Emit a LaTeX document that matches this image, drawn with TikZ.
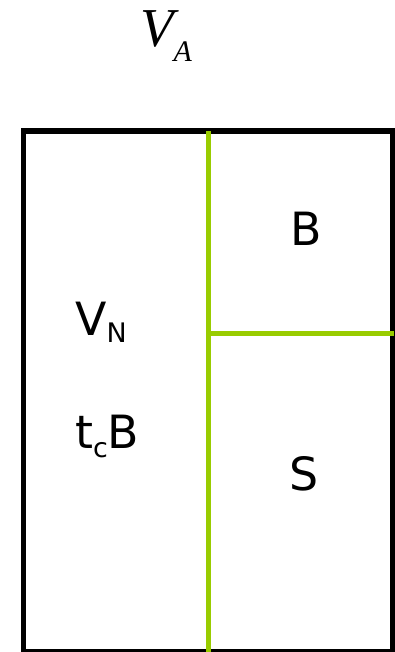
\documentclass[tikz,border=0pt]{standalone}
\usepackage{fontspec}
\setmainfont{DejaVu Sans}
\newfontfamily\serifit{Liberation Serif}

\definecolor{verde}{RGB}{153,204,0}

% subindice bajado
\newcommand\lowidx[2][7bp]{\raisebox{-#1}{\fontsize{27}{30}\selectfont #2}}

\begin{document}
\begin{tikzpicture}[
  x=1bp, y=-1bp,
  lbl/.style={inner sep=0pt, font=\fontsize{46}{50}\selectfont},
  marco/.style={draw=black, line width=5.5bp},
  division/.style={draw=verde, line width=5bp},
]
\useasboundingbox (0,0) rectangle (394,652);
% Titulo
\node[inner sep=0pt, anchor=base west] (va) at (140,47)
  {\serifit\itshape\fontsize{55}{60}\selectfont V\raisebox{-15bp}{\fontsize{30}{32}\selectfont A}};
% Marco exterior
\coordinate (no) at (23.5,131);
\coordinate (se) at (392.5,651.5);
\draw[marco] (no) rectangle (se);
% Divisiones verdes
\coordinate (arriba) at (208.7,131);
\coordinate (abajo)  at (208.7,652);
\coordinate (corte)  at (208.7,333.5);
\coordinate (borde)  at (394,333.5);
\draw[division] (arriba) -- (abajo);
\draw[division] (corte) -- (borde);
% Etiquetas de las zonas
\node[lbl, anchor=base west] (vn) at (75,335) {V\lowidx{N}};
\node[lbl, anchor=base west] (tcb) at (75,448) {t\lowidx[9bp]{c}B};
\node[lbl, anchor=base] (b) at (306,245) {B};
\node[lbl, anchor=base] (s) at (304,490) {S};
\end{tikzpicture}
\end{document}
